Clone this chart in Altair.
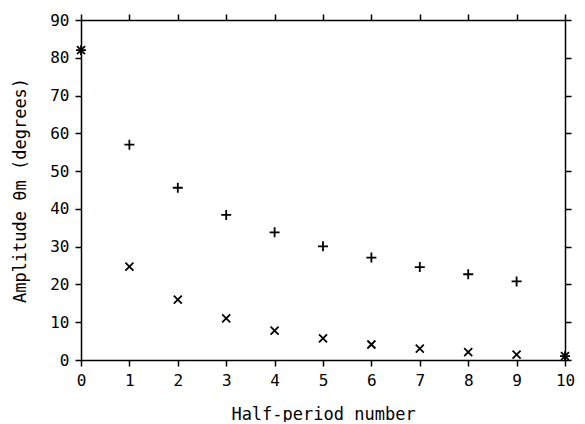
import altair as alt
import pandas as pd

plus_x = [0, 1, 2, 3, 4, 5, 6, 7, 8, 9, 10]
plus_y = [82, 57, 45.6, 38.4, 33.8, 30.1, 27.1, 24.6, 22.7, 20.8, 1.0]
cross_x = [0, 1, 2, 3, 4, 5, 6, 7, 8, 9, 10]
cross_y = [82, 24.7, 16.0, 11.0, 7.8, 5.7, 4.1, 3.0, 2.1, 1.4, 1.0]

x_ticks = list(range(0, 11))
y_ticks = list(range(0, 91, 10))

df = pd.DataFrame(
    {"x": plus_x + cross_x,
     "y": plus_y + cross_y,
     "series": ["plus"] * len(plus_x) + ["cross"] * len(cross_x)}
)

PLUS = "M-1,0L1,0M0,-1L0,1"
CROSS = "M-0.8,-0.8L0.8,0.8M-0.8,0.8L0.8,-0.8"

font = "DejaVu Sans Mono"

xs = alt.Scale(domain=[0, 10], nice=False, zero=False)
ys = alt.Scale(domain=[0, 90], nice=False)

line_axis = dict(domainColor="black", domainWidth=1.5, tickColor="black",
                 tickWidth=1.5, tickSize=6, grid=False)
text_axis = dict(labelFont=font, labelFontSize=16, labelColor="black", titleFont=font,
                 titleFontSize=17, titleColor="black", titleFontWeight="normal",
                 labelFlush=False, labelOverlap=False)

points = alt.Chart(df).mark_point(filled=False, strokeWidth=1.8, size=100, opacity=1).encode(
    x=alt.X("x:Q", scale=xs,
            axis=alt.Axis(values=x_ticks, title="Half-period number", labelPadding=6,
                          titlePadding=18, **line_axis, **text_axis)),
    y=alt.Y("y:Q", scale=ys,
            axis=alt.Axis(values=y_ticks, title="Amplitude θm (degrees)", labelPadding=6,
                          titlePadding=20, **line_axis, **text_axis)),
    shape=alt.Shape("series:N", scale=alt.Scale(domain=["plus", "cross"], range=[PLUS, CROSS]),
                    legend=None),
    color=alt.value("black"),
)

frame = alt.Chart(df).mark_point(opacity=0).encode(
    x=alt.X("x:Q", scale=xs, axis=alt.Axis(orient="top", values=x_ticks, labels=False,
                                           title=None, **line_axis)),
    y=alt.Y("y:Q", scale=ys, axis=alt.Axis(orient="right", values=y_ticks, labels=False,
                                           title=None, **line_axis)),
)

chart = alt.layer(points, frame).resolve_axis(x="independent", y="independent").properties(
    width=484, height=340,
    autosize=alt.AutoSizeParams(type="none"),
    padding={"left": 73, "top": 12, "right": 12, "bottom": 62},
).configure_view(stroke=None).configure(background="white")

chart.save("out.html", embed_options={"renderer": "svg", "actions": False})
